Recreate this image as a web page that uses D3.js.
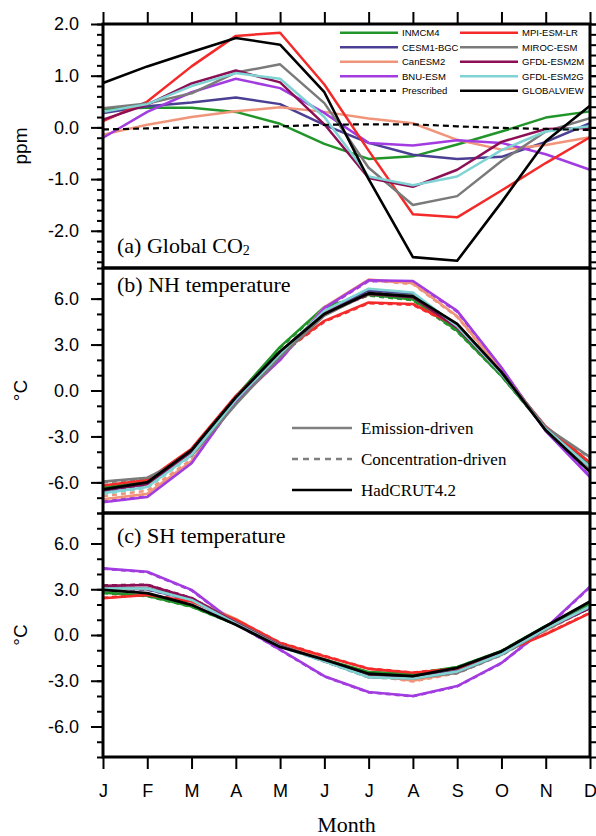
<!DOCTYPE html>
<html>
<head>
<meta charset="utf-8">
<script src="https://cdn.jsdelivr.net/npm/d3@7"></script>
<style>
  body { margin: 0; background: #fff; }
  svg { display: block; }
  .sans { font-family: "Liberation Sans", Arial, Helvetica, sans-serif; }
  .serif { font-family: "Liberation Serif", "Times New Roman", serif; }
</style>
</head>
<body>
<div id="chart"></div>
<script>
// months on the shared x axis
const months = ["J", "F", "M", "A", "M", "J", "J", "A", "S", "O", "N", "D"];

// model names, same order in every panel
const models = ["INMCM4", "CESM1-BGC", "CanESM2", "BNU-ESM",
                "MPI-ESM-LR", "MIROC-ESM", "GFDL-ESM2M", "GFDL-ESM2G"];

// (a) seasonal cycle of global CO2 (ppm)
const co2_INMCM4     = [0.36, 0.38, 0.38, 0.30, 0.07, -0.32, -0.61, -0.56, -0.33, -0.08, 0.19, 0.31];
const co2_CESM1      = [0.28, 0.41, 0.48, 0.58, 0.45, 0.05, -0.30, -0.53, -0.61, -0.57, -0.28, 0.08];
const co2_CanESM2    = [-0.14, 0.05, 0.20, 0.31, 0.39, 0.30, 0.17, 0.08, -0.24, -0.43, -0.34, -0.19];
const co2_BNU        = [-0.20, 0.30, 0.68, 0.94, 0.76, 0.28, -0.30, -0.35, -0.25, -0.30, -0.52, -0.82];
const co2_MPI        = [0.12, 0.50, 1.18, 1.77, 1.83, 0.83, -0.45, -1.68, -1.74, -1.22, -0.69, -0.19];
const co2_MIROC      = [0.37, 0.46, 0.66, 1.06, 1.22, 0.47, -0.78, -1.50, -1.33, -0.65, -0.08, 0.18];
const co2_ESM2M      = [0.15, 0.44, 0.85, 1.10, 0.87, 0.06, -0.98, -1.15, -0.82, -0.28, -0.03, -0.01];
const co2_ESM2G      = [0.30, 0.45, 0.80, 1.05, 0.94, 0.20, -0.95, -1.12, -0.95, -0.44, -0.08, 0.02];
const co2_Prescribed = [-0.04, -0.02, 0.00, -0.01, 0.02, 0.05, 0.06, 0.06, 0.02, -0.01, -0.03, -0.05];
const co2_GLOBALVIEW = [0.86, 1.18, 1.46, 1.73, 1.60, 0.68, -1.00, -2.51, -2.58, -1.45, -0.27, 0.42];

// (b) NH temperature anomaly, emission-driven runs
const nh_INMCM4  = [-6.30, -5.95, -3.90, -0.40, 2.85, 5.45, 6.25, 5.95, 3.90, 0.95, -2.50, -4.80];
const nh_CESM1   = [-6.55, -6.10, -4.10, -0.55, 2.50, 5.10, 6.55, 6.30, 4.20, 1.20, -2.55, -5.00];
const nh_CanESM2 = [-7.10, -6.75, -4.60, -0.75, 2.00, 5.45, 7.25, 7.00, 4.85, 1.30, -2.50, -5.30];
const nh_BNU     = [-7.30, -6.95, -4.75, -0.70, 2.00, 5.40, 7.20, 7.15, 5.20, 1.50, -2.65, -5.65];
const nh_MPI     = [-6.20, -5.85, -3.80, -0.35, 2.40, 4.55, 5.75, 5.65, 4.20, 1.15, -2.35, -4.70];
const nh_MIROC   = [-5.95, -5.70, -4.25, -0.90, 2.20, 4.90, 6.35, 6.20, 4.10, 1.20, -2.40, -4.35];
const nh_ESM2M   = [-6.50, -6.10, -4.00, -0.50, 2.50, 5.10, 6.30, 6.10, 4.10, 1.10, -2.50, -5.00];
const nh_ESM2G   = [-6.70, -6.30, -4.20, -0.60, 2.40, 5.20, 6.65, 6.40, 4.20, 1.10, -2.50, -5.00];
// (b) concentration-driven runs
const nhc_INMCM4  = [-6.35, -6.00, -3.95, -0.45, 2.80, 5.40, 6.20, 5.90, 3.85, 0.95, -2.50, -4.85];
const nhc_CESM1   = [-6.60, -6.15, -4.10, -0.60, 2.45, 5.05, 6.50, 6.25, 4.15, 1.15, -2.55, -5.05];
const nhc_CanESM2 = [-6.90, -6.55, -4.50, -0.70, 2.05, 5.40, 7.20, 6.95, 4.80, 1.30, -2.50, -5.25];
const nhc_BNU     = [-7.25, -6.90, -4.70, -0.70, 2.00, 5.35, 7.15, 7.10, 5.15, 1.45, -2.60, -5.60];
const nhc_MPI     = [-6.25, -5.90, -3.85, -0.40, 2.35, 4.50, 5.70, 5.60, 4.15, 1.10, -2.40, -4.75];
const nhc_MIROC   = [-6.00, -5.75, -4.20, -0.85, 2.25, 4.95, 6.30, 6.15, 4.05, 1.15, -2.45, -4.40];
const nhc_ESM2M   = [-6.55, -6.15, -4.05, -0.55, 2.45, 5.05, 6.25, 6.05, 4.05, 1.05, -2.50, -5.05];
const nhc_ESM2G   = [-6.75, -6.35, -4.25, -0.65, 2.35, 5.15, 6.60, 6.35, 4.15, 1.05, -2.50, -5.05];
const nh_HadCRUT  = [-6.45, -6.00, -3.90, -0.45, 2.55, 5.00, 6.35, 6.15, 4.35, 1.20, -2.60, -5.30];

// (c) SH temperature anomaly, emission-driven runs
const sh_INMCM4  = [2.78, 2.57, 1.87, 0.70, -0.62, -1.60, -2.43, -2.55, -2.10, -1.05, 0.60, 2.02];
const sh_CESM1   = [3.05, 3.00, 2.30, 0.80, -0.70, -1.70, -2.70, -2.80, -2.35, -1.20, 0.45, 1.85];
const sh_CanESM2 = [3.05, 3.05, 2.35, 1.05, -0.55, -1.60, -2.60, -3.00, -2.45, -1.20, 0.30, 1.85];
const sh_BNU     = [4.37, 4.15, 2.96, 0.75, -0.96, -2.70, -3.74, -4.00, -3.35, -1.83, 0.46, 3.17];
const sh_MPI     = [2.41, 2.63, 2.20, 1.00, -0.52, -1.39, -2.22, -2.48, -2.20, -1.17, 0.05, 1.43];
const sh_MIROC   = [3.10, 3.07, 2.41, 0.85, -0.65, -1.70, -2.76, -2.85, -2.48, -1.30, 0.35, 1.80];
const sh_ESM2M   = [3.22, 3.28, 2.41, 0.80, -0.70, -1.70, -2.70, -2.80, -2.40, -1.20, 0.40, 1.76];
const sh_ESM2G   = [3.05, 3.05, 2.30, 0.75, -0.75, -1.72, -2.76, -2.85, -2.40, -1.25, 0.40, 1.87];
// (c) concentration-driven runs
const shc_INMCM4  = [2.75, 2.55, 1.85, 0.70, -0.65, -1.62, -2.45, -2.58, -2.12, -1.05, 0.58, 2.00];
const shc_CESM1   = [3.02, 2.98, 2.28, 0.78, -0.72, -1.72, -2.72, -2.82, -2.37, -1.22, 0.43, 1.83];
const shc_CanESM2 = [3.00, 3.02, 2.33, 1.02, -0.58, -1.63, -2.65, -3.05, -2.50, -1.22, 0.28, 1.82];
const shc_BNU     = [4.35, 4.12, 2.93, 0.73, -0.98, -2.72, -3.76, -4.02, -3.37, -1.85, 0.44, 3.14];
const shc_MPI     = [2.44, 2.65, 2.22, 1.02, -0.50, -1.37, -2.20, -2.46, -2.18, -1.15, 0.07, 1.46];
const shc_MIROC   = [3.08, 3.05, 2.39, 0.83, -0.67, -1.72, -2.78, -2.88, -2.50, -1.32, 0.33, 1.78];
const shc_ESM2M   = [3.25, 3.30, 2.43, 0.82, -0.68, -1.68, -2.68, -2.78, -2.38, -1.18, 0.42, 1.78];
const shc_ESM2G   = [3.03, 3.03, 2.28, 0.73, -0.77, -1.74, -2.78, -2.87, -2.42, -1.27, 0.38, 1.85];
const sh_HadCRUT  = [2.96, 2.74, 1.98, 0.67, -0.78, -1.61, -2.54, -2.70, -2.15, -1.07, 0.57, 2.20];

// colours for each model, same order as models
const modelColors = ["#22952a", "#4a3f93", "#f0957a", "#a23ce0",
                     "#f42a2a", "#7a7a7a", "#8c0f55", "#7fd3d3"];

// ---------------------------------------------------------------
const W = 596, H = 836;
const LEFT = 103, RIGHT = 590;

const svg = d3.select("#chart").append("svg")
              .attr("width", W)
              .attr("height", H);

const x = d3.scaleLinear().domain([0, 11]).range([LEFT, RIGHT]);
const fmt = v => v.toFixed(1);

const line = y => d3.line()
                    .x((d, i) => x(i))
                    .y(d => y(d));

function drawPanel(p) {
    const y = d3.scaleLinear().domain(p.domain).range([p.bottom, p.top]);
    const g = svg.append("g");

    // data lines
    p.series.forEach(s => {
        g.append("path")
         .attr("d", line(y)(s.values))
         .attr("fill", "none")
         .attr("stroke", s.color)
         .attr("stroke-width", s.width || 2.5)
         .attr("stroke-dasharray", s.dash || null)
         .attr("stroke-linejoin", "round");
    });

    // minor ticks left / right
    const minorL = d3.axisLeft(y).tickValues(p.minor).tickSize(6).tickFormat("");
    const minorR = d3.axisRight(y).tickValues(p.minor).tickSize(6).tickFormat("");
    const majorL = d3.axisLeft(y).tickValues(p.major).tickSize(12).tickPadding(12).tickFormat(fmt);
    const majorR = d3.axisRight(y).tickValues(p.major).tickSize(12).tickFormat("");

    [[minorL, LEFT], [minorR, RIGHT], [majorL, LEFT], [majorR, RIGHT]].forEach(([ax, xpos]) => {
        const a = g.append("g").attr("transform", `translate(${xpos},0)`).call(ax);
        a.select(".domain").remove();
        a.selectAll("line").attr("stroke", "#000").attr("stroke-width", 2);
        a.selectAll("text")
         .attr("class", "sans")
         .attr("font-size", 18)
         .attr("fill", "#000");
    });

    // frame
    g.append("rect")
     .attr("x", LEFT).attr("y", p.top)
     .attr("width", RIGHT - LEFT).attr("height", p.bottom - p.top)
     .attr("fill", "none")
     .attr("stroke", "#000")
     .attr("stroke-width", 3);

    // y title
    svg.append("text")
       .attr("class", "sans")
       .attr("font-size", 19)
       .attr("text-anchor", "middle")
       .attr("transform", `translate(27,${(p.top + p.bottom) / 2}) rotate(-90)`)
       .text(p.ytitle);

    // panel label
    const lab = svg.append("text")
                   .attr("class", "serif")
                   .attr("font-size", 22)
                   .attr("x", 117)
                   .attr("y", p.labelY)
                   .text(p.label);
    if (p.sub) {
        lab.append("tspan").attr("font-size", 14).attr("dy", 2).text(p.sub);
    }
    return y;
}

// panel (a)
const seriesA = [co2_INMCM4, co2_CESM1, co2_CanESM2, co2_BNU,
                 co2_MPI, co2_MIROC, co2_ESM2M, co2_ESM2G]
    .map((v, i) => ({ values: v, color: modelColors[i] }));
seriesA.push({ values: co2_Prescribed, color: "#000", dash: "6,4", width: 2.2 });
seriesA.push({ values: co2_GLOBALVIEW, color: "#000", width: 2.6 });

drawPanel({
    top: 24, bottom: 268,
    domain: [-2.72, 2.0],
    major: [-2, -1, 0, 1, 2],
    minor: d3.range(-13, 11).map(k => k * 0.2),
    ytitle: "ppm",
    label: "(a) Global CO", sub: "2", labelY: 253,
    series: seriesA
});

// panel (b)
const nhEmis = [nh_INMCM4, nh_CESM1, nh_CanESM2, nh_BNU, nh_MPI, nh_MIROC, nh_ESM2M, nh_ESM2G];
const nhConc = [nhc_INMCM4, nhc_CESM1, nhc_CanESM2, nhc_BNU, nhc_MPI, nhc_MIROC, nhc_ESM2M, nhc_ESM2G];
const seriesB = nhConc.map((v, i) => ({ values: v, color: modelColors[i], dash: "5,4", width: 2.6 }))
    .concat(nhEmis.map((v, i) => ({ values: v, color: modelColors[i], width: 2.6 })));
seriesB.push({ values: nh_HadCRUT, color: "#000", width: 2.8 });

drawPanel({
    top: 268, bottom: 513,
    domain: [-8, 8],
    major: [-6, -3, 0, 3, 6],
    minor: d3.range(-8, 9),
    ytitle: "°C",
    label: "(b) NH temperature", labelY: 292,
    series: seriesB
});

// panel (c)
const shEmis = [sh_INMCM4, sh_CESM1, sh_CanESM2, sh_BNU, sh_MPI, sh_MIROC, sh_ESM2M, sh_ESM2G];
const shConc = [shc_INMCM4, shc_CESM1, shc_CanESM2, shc_BNU, shc_MPI, shc_MIROC, shc_ESM2M, shc_ESM2G];
const seriesC = shConc.map((v, i) => ({ values: v, color: modelColors[i], dash: "5,4", width: 2.6 }))
    .concat(shEmis.map((v, i) => ({ values: v, color: modelColors[i], width: 2.6 })));
seriesC.push({ values: sh_HadCRUT, color: "#000", width: 2.8 });

drawPanel({
    top: 513, bottom: 757,
    domain: [-8, 8],
    major: [-6, -3, 0, 3, 6],
    minor: d3.range(-8, 9),
    ytitle: "°C",
    label: "(c) SH temperature", labelY: 543,
    series: seriesC
});

// x axis: ticks on top of (a), ticks + labels at bottom of (c)
const topAx = svg.append("g").attr("transform", "translate(0,24)")
                 .call(d3.axisTop(x).tickValues(d3.range(12)).tickSize(12).tickFormat(""));
const botAx = svg.append("g").attr("transform", "translate(0,757)")
                 .call(d3.axisBottom(x).tickValues(d3.range(12)).tickSize(12).tickFormat(i => months[i]));
[topAx, botAx].forEach(a => {
    a.select(".domain").remove();
    a.selectAll("line").attr("stroke", "#000").attr("stroke-width", 2);
});
botAx.selectAll("text")
     .attr("class", "sans")
     .attr("font-size", 18)
     .attr("fill", "#000")
     .attr("y", 40)
     .attr("dy", 0);

svg.append("text")
   .attr("class", "serif")
   .attr("font-size", 22)
   .attr("text-anchor", "middle")
   .attr("x", (LEFT + RIGHT) / 2)
   .attr("y", 832)
   .text("Month");

// legend (a)
const legA = models.map((m, i) => ({ name: m, color: modelColors[i] }));
legA.splice(4, 0, { name: "Prescribed", color: "#000", dash: "6,4" });
legA.push({ name: "GLOBALVIEW", color: "#000" });
legA.forEach((d, i) => {
    const col = i < 5 ? 0 : 1, row = i % 5;
    const x0 = col ? 460 : 340, yy = 32.7 + row * 14.5;
    svg.append("line")
       .attr("x1", x0).attr("x2", x0 + 58)
       .attr("y1", yy).attr("y2", yy)
       .attr("stroke", d.color)
       .attr("stroke-width", 2.5)
       .attr("stroke-dasharray", d.dash || null);
    svg.append("text")
       .attr("class", "sans")
       .attr("font-size", 9.5)
       .attr("x", x0 + 62)
       .attr("y", yy + 3.5)
       .text(d.name);
});

// legend (b)
const legB = [
    { name: "Emission-driven", color: "#808080" },
    { name: "Concentration-driven", color: "#808080", dash: "6,5" },
    { name: "HadCRUT4.2", color: "#000" }
];
legB.forEach((d, i) => {
    const yy = 428 + i * 31;
    svg.append("line")
       .attr("x1", 292).attr("x2", 352)
       .attr("y1", yy).attr("y2", yy)
       .attr("stroke", d.color)
       .attr("stroke-width", 2.5)
       .attr("stroke-dasharray", d.dash || null);
    svg.append("text")
       .attr("class", "serif")
       .attr("font-size", 17)
       .attr("x", 361)
       .attr("y", yy + 5.5)
       .text(d.name);
});
</script>
</body>
</html>
